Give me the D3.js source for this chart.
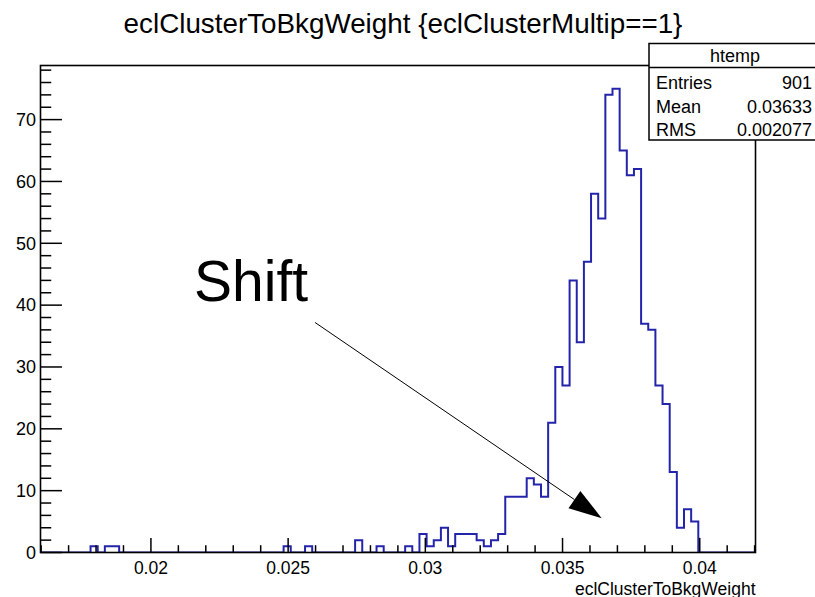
<!DOCTYPE html>
<html>
<head>
<meta charset="utf-8">
<script src="https://cdn.jsdelivr.net/npm/d3@7"></script>
<style>
  html, body { margin: 0; padding: 0; background: #fff; }
  svg { display: block; font-family: "Liberation Sans", Arial, Helvetica, sans-serif; }
</style>
</head>
<body>
<svg id="chart" width="815" height="597"></svg>
<script>
// Histogram binning of eclClusterToBkgWeight (100 equal bins)
const nBins = 100;
const xMin = 0.015976;
const xMax = 0.042032;

// Entries per bin
const binCounts = [
  0, 0, 0, 0, 0, 0, 0, 1, 0, 1,
  1, 0, 0, 0, 0, 0, 0, 0, 0, 0,
  0, 0, 0, 0, 0, 0, 0, 0, 0, 0,
  0, 0, 0, 0, 1, 0, 0, 1, 0, 0,
  0, 0, 0, 0, 2, 0, 0, 1, 0, 0,
  0, 1, 0, 3, 1, 2, 4, 1, 3, 3,
  3, 2, 1, 2, 3, 9, 9, 9, 12, 11,
  9, 21, 30, 27, 44, 34, 47, 58, 54, 74,
  75, 65, 61, 62, 37, 36, 27, 24, 13, 4,
  7, 5, 0, 0, 0, 0, 0, 0, 0, 0
];

// Axis ticks
const xMajorTicks = [0.02, 0.025, 0.03, 0.035, 0.04];
const xTickLabels = ["0.02", "0.025", "0.03", "0.035", "0.04"];
const xMinorStep = 0.001;
const yMajorTicks = [0, 10, 20, 30, 40, 50, 60, 70];
const yMinorStep = 2;

// Texts
const titleText = "eclClusterToBkgWeight {eclClusterMultip==1}";
const xAxisTitle = "eclClusterToBkgWeight";
const statsName = "htemp";
const statLabels = ["Entries", "Mean", "RMS"];
const statValues = ["901", "0.03633", "0.002077"];

// Annotation (in data coordinates)
const shiftLabel = { text: "Shift", x: 0.021570, y: 40.6 };
const shiftArrow = { x1: 0.025979, y1: 37.2, x2: 0.036427, y2: 5.55 };

const svg = d3.select("#chart");
const frame = { left: 40.5, right: 755.5, top: 65.5, bottom: 552.5 };

const yMax = d3.max(binCounts) * 1.05;
const x = d3.scaleLinear().domain([xMin, xMax]).range([frame.left, frame.right]);
const y = d3.scaleLinear().domain([0, yMax]).range([frame.bottom, frame.top]);

const binWidth = (xMax - xMin) / nBins;
const edges = d3.range(nBins + 1).map(i => xMin + i * binWidth);

// Clip for histogram
svg.append("defs").append("clipPath").attr("id", "frameClip")
  .append("rect")
  .attr("x", frame.left).attr("y", frame.top)
  .attr("width", frame.right - frame.left).attr("height", frame.bottom - frame.top);

// Histogram outline as a step path
const path = d3.path();
path.moveTo(x(edges[0]), y(0));
binCounts.forEach((c, i) => {
  path.lineTo(x(edges[i]), y(c));
  path.lineTo(x(edges[i + 1]), y(c));
});
path.lineTo(x(edges[nBins]), y(0));

svg.append("path")
  .attr("d", path.toString())
  .attr("clip-path", "url(#frameClip)")
  .attr("fill", "none")
  .attr("stroke", "#2424aa")
  .attr("stroke-width", 2)
  .attr("stroke-linejoin", "miter");

// Frame
svg.append("rect")
  .attr("x", frame.left).attr("y", frame.top)
  .attr("width", frame.right - frame.left).attr("height", frame.bottom - frame.top)
  .attr("fill", "none").attr("stroke", "#000").attr("stroke-width", 1.6);

// X axis ticks (pointing up into the frame)
const xTickLen = 0.03 * (frame.bottom - frame.top);
const xMinor = d3.range(Math.ceil(xMin / xMinorStep), Math.floor(xMax / xMinorStep) + 1)
  .map(k => +(k * xMinorStep).toFixed(4))
  .filter(v => !xMajorTicks.some(m => Math.abs(m - v) < 1e-9));
const gx = svg.append("g").attr("stroke", "#000").attr("stroke-width", 1.5);
gx.selectAll("line.minor").data(xMinor).join("line")
  .attr("class", "minor")
  .attr("x1", d => x(d)).attr("x2", d => x(d))
  .attr("y1", frame.bottom).attr("y2", frame.bottom - xTickLen / 2);
gx.selectAll("line.major").data(xMajorTicks).join("line")
  .attr("class", "major")
  .attr("x1", d => x(d)).attr("x2", d => x(d))
  .attr("y1", frame.bottom).attr("y2", frame.bottom - xTickLen);

svg.append("g").selectAll("text").data(xMajorTicks).join("text")
  .attr("x", d => x(d)).attr("y", 574)
  .attr("text-anchor", "middle")
  .attr("font-size", 17.5)
  .attr("fill", "#000")
  .text((d, i) => xTickLabels[i]);

// Y axis ticks (pointing right into the frame)
const yTickLen = 0.03 * (frame.right - frame.left);
const yMinor = d3.range(0, Math.floor(yMax) + 1, yMinorStep)
  .filter(v => !yMajorTicks.includes(v));
const gy = svg.append("g").attr("stroke", "#000").attr("stroke-width", 1.5);
gy.selectAll("line.minor").data(yMinor).join("line")
  .attr("class", "minor")
  .attr("x1", frame.left).attr("x2", frame.left + yTickLen / 2)
  .attr("y1", d => y(d)).attr("y2", d => y(d));
gy.selectAll("line.major").data(yMajorTicks).join("line")
  .attr("class", "major")
  .attr("x1", frame.left).attr("x2", frame.left + yTickLen)
  .attr("y1", d => y(d)).attr("y2", d => y(d));

svg.append("g").selectAll("text").data(yMajorTicks).join("text")
  .attr("x", 36).attr("y", d => y(d))
  .attr("dy", "0.35em")
  .attr("text-anchor", "end")
  .attr("font-size", 18)
  .attr("fill", "#000")
  .text(d => d);

// Axis title
svg.append("text")
  .attr("x", frame.right).attr("y", 594.5)
  .attr("text-anchor", "end")
  .attr("font-size", 17.5)
  .attr("fill", "#000")
  .text(xAxisTitle);

// Title
svg.append("text")
  .attr("x", 403).attr("y", 33)
  .attr("text-anchor", "middle")
  .attr("font-size", 27.8)
  .attr("fill", "#000")
  .text(titleText);

// Statistics box
const box = { left: 649, right: 822, top: 43.5, header: 67.5, bottom: 140 };
const gs = svg.append("g");
gs.append("rect")
  .attr("x", box.left).attr("y", box.top)
  .attr("width", box.right - box.left).attr("height", box.bottom - box.top)
  .attr("fill", "#fff").attr("stroke", "#000").attr("stroke-width", 1.5);
gs.append("line")
  .attr("x1", box.left).attr("x2", box.right)
  .attr("y1", box.header).attr("y2", box.header)
  .attr("stroke", "#000").attr("stroke-width", 1.5);
gs.append("text")
  .attr("x", 735).attr("y", 62)
  .attr("text-anchor", "middle")
  .attr("font-size", 18)
  .text(statsName);
const rowY = [89, 112.5, 136];
gs.selectAll("text.lab").data(statLabels).join("text")
  .attr("class", "lab")
  .attr("x", 656).attr("y", (d, i) => rowY[i])
  .attr("font-size", 18)
  .text(d => d);
gs.selectAll("text.val").data(statValues).join("text")
  .attr("class", "val")
  .attr("x", 812).attr("y", (d, i) => rowY[i])
  .attr("text-anchor", "end")
  .attr("font-size", 18)
  .text(d => d);

// Annotation: label and arrow
svg.append("text")
  .attr("x", x(shiftLabel.x)).attr("y", y(shiftLabel.y))
  .attr("font-size", 57)
  .attr("fill", "#000")
  .text(shiftLabel.text);

const ax1 = x(shiftArrow.x1), ay1 = y(shiftArrow.y1);
const ax2 = x(shiftArrow.x2), ay2 = y(shiftArrow.y2);
const len = Math.hypot(ax2 - ax1, ay2 - ay1);
const ux = (ax2 - ax1) / len, uy = (ay2 - ay1) / len;
const headLen = 33, headHalf = 10.5;
const bx = ax2 - ux * headLen, by = ay2 - uy * headLen;
svg.append("line")
  .attr("x1", ax1).attr("y1", ay1).attr("x2", bx).attr("y2", by)
  .attr("stroke", "#000").attr("stroke-width", 1);
svg.append("path")
  .attr("d", `M${ax2},${ay2}L${bx - uy * headHalf},${by + ux * headHalf}L${bx + uy * headHalf},${by - ux * headHalf}Z`)
  .attr("fill", "#000");
</script>
</body>
</html>
